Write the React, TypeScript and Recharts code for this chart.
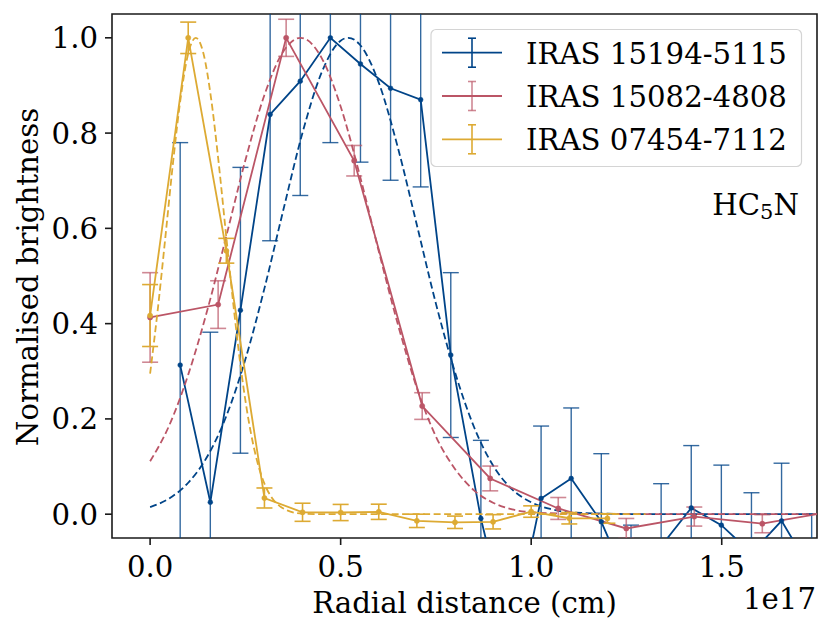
import React from 'react';
import { ComposedChart, Line, XAxis, YAxis, ErrorBar, ReferenceArea } from 'recharts';

// ---- Data (x in units of 1e17 cm) ----
const blueX = [0.0789, 0.158, 0.237, 0.315, 0.394, 0.473, 0.552, 0.631, 0.71, 0.789, 0.868, 0.947, 1.026, 1.105, 1.184, 1.262, 1.341, 1.42, 1.499, 1.578, 1.657, 1.736];
const blueY = [0.313, 0.025, 0.428, 0.839, 0.909, 1.0, 0.945, 0.894, 0.87, 0.334, -0.009, -0.27, 0.033, 0.075, -0.016, -0.16, -0.067, 0.013, -0.023, -0.082, -0.014, -0.12];
const blueErr = [0.467, 0.357, 0.3, 0.265, 0.24, 0.22, 0.206, 0.193, 0.183, 0.173, 0.164, 0.16, 0.152, 0.148, 0.143, 0.137, 0.131, 0.131, 0.126, 0.127, 0.121, 0.12];

const redX = [0.0, 0.1785, 0.357, 0.5355, 0.714, 0.8925, 1.071, 1.2495, 1.428, 1.6065, 1.785];
const redY = [0.413, 0.44, 1.0, 0.742, 0.227, 0.075, 0.012, -0.03, -0.005, -0.02, 0.005];
const redErr = [0.094, 0.05, 0.039, 0.032, 0.028, 0.026, 0.023, 0.021, 0.02, 0.019, 0.018];

const yellowX = [0.0, 0.1, 0.2, 0.3, 0.4, 0.5, 0.6, 0.7, 0.8, 0.9, 1.0, 1.1, 1.2];
const yellowY = [0.417, 1.0, 0.553, 0.034, 0.004, 0.0035, 0.005, -0.014, -0.017, -0.016, 0.0055, -0.0085, -0.009];
const yellowErr = [0.065, 0.033, 0.026, 0.021, 0.019, 0.017, 0.016, 0.014, 0.013, 0.015, 0.012, 0.012, 0.01];

// Fitted profiles (dashed)
const blueFitX = [0, 0.05, 0.1, 0.15, 0.2, 0.25, 0.3, 0.35, 0.4, 0.45, 0.5, 0.52, 0.55, 0.6, 0.65, 0.7, 0.75, 0.8, 0.85, 0.9, 0.95, 1.0, 1.05, 1.1, 1.2, 1.3, 1.75];
const blueFitY = [0.015, 0.033, 0.066, 0.121, 0.206, 0.325, 0.474, 0.64, 0.801, 0.927, 0.994, 1.0, 0.986, 0.906, 0.77, 0.607, 0.442, 0.298, 0.183, 0.102, 0.052, 0.025, 0.011, 0.004, 0.001, 0, 0];

const redFitX = [0, 0.05, 0.1, 0.15, 0.2, 0.25, 0.3, 0.35, 0.395, 0.45, 0.5, 0.55, 0.6, 0.65, 0.7, 0.75, 0.8, 0.85, 0.9, 0.95, 1.0, 1.1, 1.2, 1.75];
const redFitY = [0.111, 0.186, 0.293, 0.428, 0.584, 0.743, 0.88, 0.972, 1.0, 0.958, 0.856, 0.712, 0.552, 0.399, 0.265, 0.163, 0.095, 0.05, 0.024, 0.01, 0.004, 0.001, 0, 0];

const yellowFitX = [0, 0.02, 0.04, 0.06, 0.08, 0.1, 0.12, 0.14, 0.16, 0.18, 0.2, 0.22, 0.24, 0.26, 0.28, 0.3, 0.32, 0.34, 0.36, 0.4, 0.45, 0.6, 1.0, 1.3];
const yellowFitY = [0.295, 0.429, 0.581, 0.737, 0.873, 0.967, 1.0, 0.967, 0.873, 0.737, 0.581, 0.429, 0.295, 0.19, 0.114, 0.064, 0.034, 0.017, 0.008, 0.001, 0, 0, 0, 0];

const xTicks = [0, 0.5, 1.0, 1.5];
const yTicks = [0, 0.2, 0.4, 0.6, 0.8, 1.0];

const seriesNames = ['IRAS 15194-5115', 'IRAS 15082-4808', 'IRAS 07454-7112'];

const BLUE = '#004488';
const RED = '#BB5566';
const YELLOW = '#DDAA33';
const FONT = 'DejaVu Serif';
const FS = 29.2;

const rows = (xs: number[], ys: number[], es?: number[]) =>
  xs.map((x, i) => (es ? { x, y: ys[i], err: es[i] } : { x, y: ys[i] }));

const blueData = rows(blueX, blueY, blueErr);
const redData = rows(redX, redY, redErr);
const yellowData = rows(yellowX, yellowY, yellowErr);
const blueFit = rows(blueFitX, blueFitY);
const redFit = rows(redFitX, redFitY);
const yellowFit = rows(yellowFitX, yellowFitY);

const W = 831;
const H = 632;
const PLOT = { left: 112, top: 14, right: 14, bottom: 94 };

const XTick = (props: any) => (
  <text x={props.x} y={576.5} textAnchor="middle" fontFamily={FONT} fontSize={FS} fill="#000">
    {Number(props.payload.value).toFixed(1)}
  </text>
);

const YTick = (props: any) => (
  <text x={98} y={props.y + 10.5} textAnchor="end" fontFamily={FONT} fontSize={FS} fill="#000">
    {Number(props.payload.value).toFixed(1)}
  </text>
);

const legendColors = [BLUE, RED, YELLOW];
const legendErrOpacity = [1, 0.7, 1];

export default function App() {
  return (
    <div style={{ position: 'absolute', left: 0, top: 0, width: W, height: H, background: '#fff' }}>
      <style>{`.recharts-errorBar, .recharts-errorBars { clip-path: url(#plotAreaClip); }`}</style>
      <svg width={0} height={0} style={{ position: 'absolute' }}>
        <defs>
          <clipPath id="plotAreaClip" clipPathUnits="userSpaceOnUse">
            <rect x={PLOT.left} y={PLOT.top} width={W - PLOT.left - PLOT.right} height={H - PLOT.top - PLOT.bottom} />
          </clipPath>
        </defs>
      </svg>
      <ComposedChart width={W} height={H} margin={{ top: PLOT.top, right: PLOT.right, bottom: 0, left: 0 }}>
        <XAxis
          type="number"
          dataKey="x"
          domain={[-0.1, 1.75]}
          allowDataOverflow
          ticks={xTicks}
          tick={<XTick />}
          tickSize={7}
          tickLine={{ stroke: '#1a1a1a', strokeWidth: 1.6 }}
          axisLine={false}
          height={PLOT.bottom}
          label={{
            content: () => (
              <text x={464.5} y={613} textAnchor="middle" fontFamily={FONT} fontSize={FS} fill="#000">
                Radial distance (cm)
              </text>
            ),
          }}
        />
        <YAxis
          type="number"
          domain={[-0.05, 1.05]}
          allowDataOverflow
          ticks={yTicks}
          tick={<YTick />}
          tickSize={7}
          tickLine={{ stroke: '#1a1a1a', strokeWidth: 1.6 }}
          axisLine={false}
          width={PLOT.left}
          label={{
            content: () => (
              <text
                x={38}
                y={277}
                transform="rotate(-90 38 277)"
                textAnchor="middle"
                fontFamily={FONT}
                fontSize={FS}
                fill="#000"
              >
                Normalised brightness
              </text>
            ),
          }}
        />
        <Line
          data={blueData}
          dataKey="y"
          type="linear"
          stroke={BLUE}
          strokeWidth={1.8}
          dot={{ r: 2.4, fill: BLUE, stroke: BLUE, strokeWidth: 0.5 }}
          activeDot={false}
          isAnimationActive={false}
        >
          <ErrorBar dataKey="err" direction="y" width={8} stroke={BLUE} strokeWidth={1.4} strokeOpacity={0.8} isAnimationActive={false} />
        </Line>
        <Line
          data={blueFit}
          dataKey="y"
          type="monotone"
          stroke={BLUE}
          strokeWidth={1.8}
          strokeDasharray="7 3.5"
          dot={false}
          activeDot={false}
          isAnimationActive={false}
        />
        <Line
          data={redData}
          dataKey="y"
          type="linear"
          stroke={RED}
          strokeWidth={1.8}
          dot={{ r: 2.6, fill: RED, stroke: RED, strokeWidth: 0.5 }}
          activeDot={false}
          isAnimationActive={false}
        >
          <ErrorBar dataKey="err" direction="y" width={8} stroke={RED} strokeWidth={1.6} strokeOpacity={0.7} isAnimationActive={false} />
        </Line>
        <Line
          data={redFit}
          dataKey="y"
          type="monotone"
          stroke={RED}
          strokeWidth={1.8}
          strokeDasharray="7 3.5"
          dot={false}
          activeDot={false}
          isAnimationActive={false}
        />
        <Line
          data={yellowData}
          dataKey="y"
          type="linear"
          stroke={YELLOW}
          strokeWidth={1.8}
          dot={{ r: 2.6, fill: YELLOW, stroke: YELLOW, strokeWidth: 0.5 }}
          activeDot={false}
          isAnimationActive={false}
        >
          <ErrorBar dataKey="err" direction="y" width={8} stroke={YELLOW} strokeWidth={1.6} isAnimationActive={false} />
        </Line>
        <Line
          data={yellowFit}
          dataKey="y"
          type="monotone"
          stroke={YELLOW}
          strokeWidth={1.8}
          strokeDasharray="7 3.5"
          dot={false}
          activeDot={false}
          isAnimationActive={false}
        />
        <ReferenceArea
          x1={-0.1}
          x2={1.75}
          y1={-0.05}
          y2={1.05}
          fill="none"
          fillOpacity={0}
          stroke="#1a1a1a"
          strokeWidth={1.6}
          ifOverflow="visible"
        />
      </ComposedChart>
      <svg width={W} height={H} style={{ position: 'absolute', left: 0, top: 0, pointerEvents: 'none' }}>
        <rect x={431} y={29.5} width={370.5} height={137} rx={5} ry={5} fill="#fff" fillOpacity={0.8} stroke="#d4d4d4" strokeWidth={1.2} />
        {seriesNames.map((name, i) => {
          const cy = 52.7 + i * 43.3;
          const c = legendColors[i];
          return (
            <g key={name}>
              <line x1={442} x2={502} y1={cy} y2={cy} stroke={c} strokeWidth={1.8} />
              <g stroke={c} strokeWidth={1.6} strokeOpacity={legendErrOpacity[i]}>
                <line x1={472} x2={472} y1={cy - 14.5} y2={cy + 14.5} />
                <line x1={468} x2={476} y1={cy - 14.5} y2={cy - 14.5} />
                <line x1={468} x2={476} y1={cy + 14.5} y2={cy + 14.5} />
              </g>
              <text x={526} y={cy + 10.8} fontFamily={FONT} fontSize={FS} fill="#000">
                {name}
              </text>
            </g>
          );
        })}
        <text x={799} y={215} textAnchor="end" fontFamily={FONT} fontSize={FS} fill="#000">
          HC<tspan fontSize={21} dy={4}>5</tspan>
          <tspan dy={-4}>N</tspan>
        </text>
        <text x={816} y={609} textAnchor="end" fontFamily={FONT} fontSize={FS} fill="#000">
          1e17
        </text>
      </svg>
    </div>
  );
}
